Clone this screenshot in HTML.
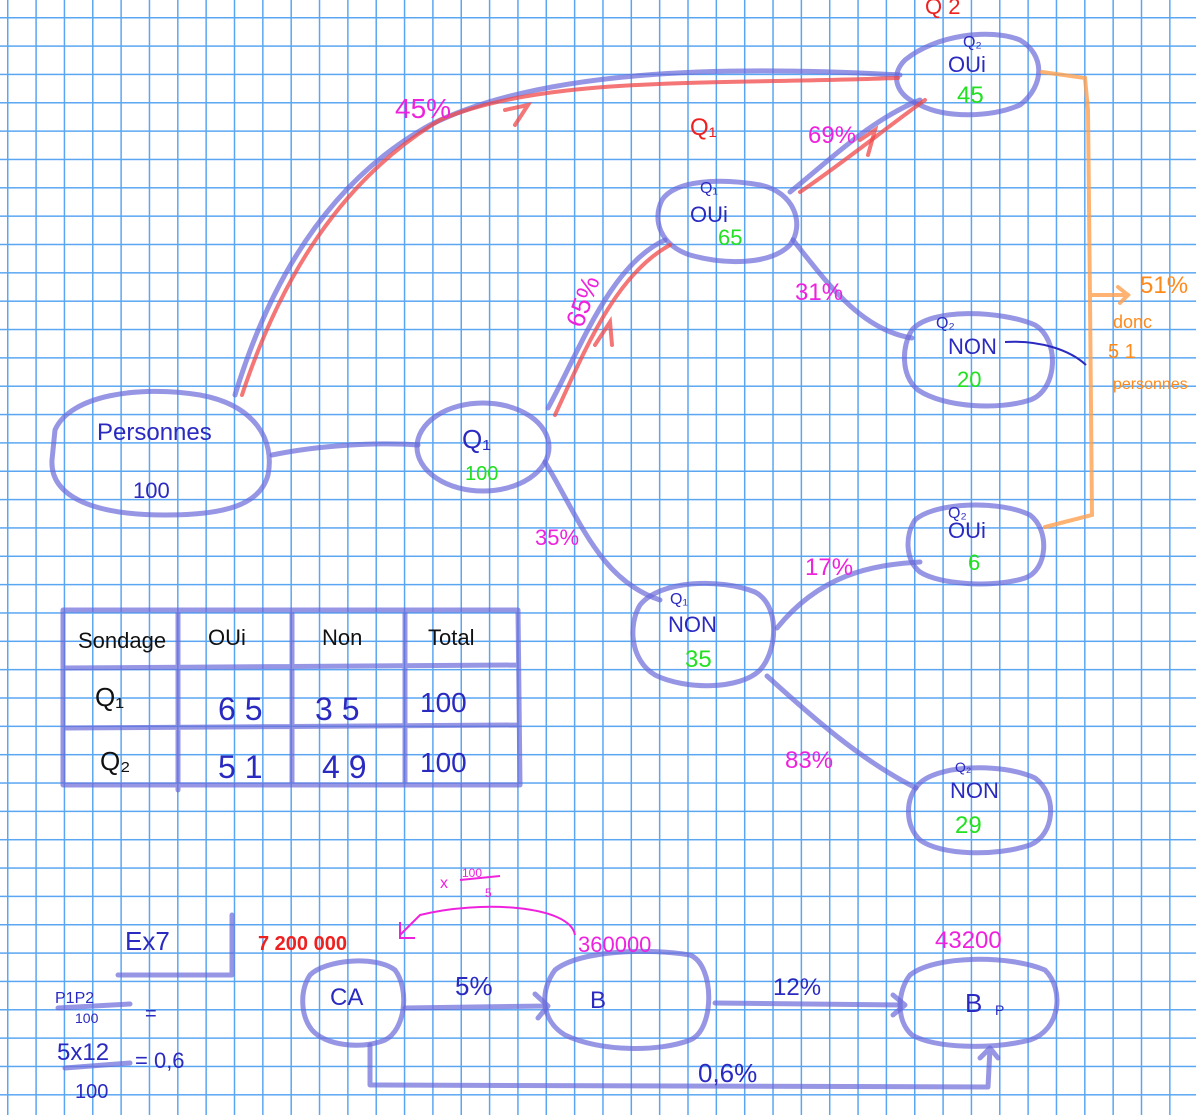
<!DOCTYPE html>
<html><head><meta charset="utf-8">
<style>
html,body{margin:0;padding:0;}
body{width:1196px;height:1115px;overflow:hidden;background:#fff;
background-image:linear-gradient(to right,#5aa6f2 1.5px,transparent 1.5px),linear-gradient(to bottom,#5aa6f2 1.5px,transparent 1.5px);
background-size:28.35px 28.35px;background-position:7px 17px;}
svg{position:absolute;left:0;top:0;}
text{font-family:"Liberation Sans",sans-serif;}
.b{fill:#2a2ac0}.g{fill:#22e022}.m{fill:#ee22dd}.r{fill:#ee2020}.o{fill:#ff8a1a}.k{fill:#111}
</style></head><body>
<svg width="1196" height="1115" viewBox="0 0 1196 1115">
<g fill="none" stroke="#6a6ad8" stroke-opacity="0.7" stroke-width="5" stroke-linecap="round" stroke-linejoin="round">
<!-- ellipses -->
<path d="M55,430 C70,395 140,385 200,395 C255,405 275,440 268,475 C260,505 225,515 165,515 C90,515 50,495 52,460 Z"/>
<ellipse cx="483" cy="447" rx="66" ry="44"/>
<path d="M662,200 C675,180 720,178 760,185 C795,192 805,225 790,245 C770,265 725,265 690,255 C660,245 652,220 662,200 Z"/>
<path d="M640,605 C660,580 720,578 755,592 C780,605 778,650 760,670 C740,690 685,690 655,675 C630,660 628,625 640,605 Z"/>
<path d="M905,60 C935,35 990,28 1020,40 C1045,55 1045,85 1020,105 C990,118 945,118 920,105 C895,95 890,75 905,60 Z"/>
<path d="M912,330 C930,308 1000,310 1035,325 C1060,340 1058,390 1030,400 C1000,410 945,408 918,390 C900,375 902,345 912,330 Z"/>
<path d="M915,520 C935,502 1000,500 1030,515 C1050,530 1048,570 1025,578 C995,588 940,585 920,572 C905,560 905,535 915,520 Z"/>
<path d="M918,785 C935,765 1000,762 1035,778 C1058,795 1055,835 1030,845 C995,857 940,855 920,840 C905,825 905,800 918,785 Z"/>
<path d="M310,975 C325,960 375,955 395,970 C410,990 405,1030 385,1040 C360,1050 325,1045 312,1030 C300,1015 300,990 310,975 Z"/>
<path d="M555,970 C580,950 650,948 690,955 C715,965 715,1030 690,1040 C660,1052 600,1052 565,1035 C540,1020 540,990 555,970 Z"/>
<path d="M910,975 C935,955 1010,955 1045,970 C1065,990 1060,1030 1030,1040 C990,1050 935,1048 912,1035 C895,1020 898,990 910,975 Z"/>
<!-- connectors -->
<path d="M272,455 C320,445 380,442 418,445"/>
<path d="M548,408 C580,350 610,265 665,240"/>
<path d="M545,462 C580,520 600,580 660,600"/>
<path d="M235,395 C270,280 330,180 430,125 C540,70 720,65 900,75"/>
<path d="M790,192 C830,160 870,120 920,100"/>
<path d="M793,240 C825,280 860,330 912,338"/>
<path d="M777,628 C820,575 870,565 920,562"/>
<path d="M767,676 C810,715 860,760 916,788"/>
<path d="M405,1008 L548,1006 M535,994 L548,1006 L538,1018"/>
<path d="M715,1003 L905,1005 M893,995 L905,1005 L893,1015"/>
<path d="M370,1045 L370,1085 L988,1087 L990,1048 M980,1058 L990,1048 L998,1058"/>
<!-- table -->
<path d="M63,610 L518,610 L520,785 L63,785 Z M63,668 L518,665 M63,728 L518,725 M178,610 L178,790 M292,610 L292,785 M405,610 L405,785"/>
<path d="M118,975 L232,975 L232,915"/>
<path d="M58,1008 L130,1004 M65,1068 L130,1063"/>
</g>
<g fill="none" stroke="#f04848" stroke-opacity="0.75" stroke-width="4" stroke-linecap="round">
<path d="M242,395 C280,280 340,180 440,120 C545,75 720,85 898,78"/>
<path d="M555,415 C585,350 615,275 670,245"/>
<path d="M800,192 C840,165 890,125 925,100"/>
<path d="M505,110 L528,105 L515,125 M595,345 L610,322 L612,345 M860,140 L875,130 L868,155"/>
</g>
<g fill="none" stroke="#ffa050" stroke-opacity="0.8" stroke-width="4" stroke-linecap="round">
<path d="M1042,72 L1085,78 L1088,110 L1090,300 L1092,515 L1045,527 M1090,295 L1128,295 M1118,287 L1128,295 L1120,303"/>
</g>
<path d="M1005,342 C1040,340 1070,350 1086,365" fill="none" stroke="#2a2ac0" stroke-width="2"/>
<path d="M575,935 C570,905 480,900 420,915 L400,935 M400,922 L400,938 L415,938" fill="none" stroke="#ee22dd" stroke-width="2"/>

<!-- texts -->
<text x="97" y="440" class="b" font-size="24">Personnes</text>
<text x="133" y="498" class="b" font-size="22">100</text>
<text x="462" y="448" class="b" font-size="26">Q₁</text>
<text x="465" y="480" class="g" font-size="20">100</text>
<text x="700" y="193" class="b" font-size="16">Q₁</text>
<text x="690" y="222" class="b" font-size="22">OUi</text>
<text x="718" y="245" class="g" font-size="22">65</text>
<text x="670" y="604" class="b" font-size="16">Q₁</text>
<text x="668" y="632" class="b" font-size="22">NON</text>
<text x="685" y="667" class="g" font-size="24">35</text>
<text x="963" y="47" class="b" font-size="16">Q₂</text>
<text x="948" y="72" class="b" font-size="22">OUi</text>
<text x="957" y="103" class="g" font-size="24">45</text>
<text x="936" y="328" class="b" font-size="16">Q₂</text>
<text x="948" y="354" class="b" font-size="22">NON</text>
<text x="957" y="387" class="g" font-size="22">20</text>
<text x="948" y="518" class="b" font-size="16">Q₂</text>
<text x="948" y="538" class="b" font-size="22">OUi</text>
<text x="968" y="570" class="g" font-size="22">6</text>
<text x="955" y="772" class="b" font-size="14">Q₂</text>
<text x="950" y="798" class="b" font-size="22">NON</text>
<text x="955" y="833" class="g" font-size="24">29</text>
<text x="395" y="118" class="m" font-size="28">45%</text>
<text x="808" y="143" class="m" font-size="24">69%</text>
<text x="555" y="320" class="m" font-size="26" transform="rotate(-70 575 305)">65%</text>
<text x="795" y="300" class="m" font-size="24">31%</text>
<text x="535" y="545" class="m" font-size="22">35%</text>
<text x="805" y="575" class="m" font-size="24">17%</text>
<text x="785" y="768" class="m" font-size="24">83%</text>
<text x="690" y="135" class="r" font-size="24">Q₁</text>
<text x="925" y="14" class="r" font-size="22">Q 2</text>
<text x="1140" y="293" class="o" font-size="24">51%</text>
<text x="1113" y="328" class="o" font-size="18">donc</text>
<text x="1108" y="358" class="o" font-size="20">5 1</text>
<text x="1113" y="389" class="o" font-size="16">personnes</text>
<text x="78" y="648" class="k" font-size="22">Sondage</text>
<text x="208" y="645" class="k" font-size="22">OUi</text>
<text x="322" y="645" class="k" font-size="22">Non</text>
<text x="428" y="645" class="k" font-size="22">Total</text>
<text x="95" y="706" class="k" font-size="26">Q₁</text>
<text x="100" y="770" class="k" font-size="26">Q₂</text>
<text x="218" y="720" class="b" font-size="32">6 5</text>
<text x="315" y="720" class="b" font-size="32">3 5</text>
<text x="420" y="712" class="b" font-size="28">100</text>
<text x="218" y="778" class="b" font-size="32">5 1</text>
<text x="322" y="778" class="b" font-size="32">4 9</text>
<text x="420" y="772" class="b" font-size="28">100</text>
<text x="125" y="950" class="b" font-size="26">Ex7</text>
<text x="55" y="1003" class="b" font-size="16">P1P2</text>
<text x="75" y="1023" class="b" font-size="14">100</text>
<text x="145" y="1020" class="b" font-size="20">=</text>
<text x="57" y="1060" class="b" font-size="24">5x12</text>
<text x="135" y="1068" class="b" font-size="22">= 0,6</text>
<text x="75" y="1098" class="b" font-size="20">100</text>
<text x="258" y="950" class="r" font-size="20" font-weight="bold">7 200 000</text>
<text x="578" y="952" class="m" font-size="22">360000</text>
<text x="440" y="888" class="m" font-size="16">x</text>
<text x="462" y="877" class="m" font-size="12">100</text>
<line x1="460" y1="880" x2="500" y2="876" stroke="#ee22dd" stroke-width="2"/>
<text x="485" y="897" class="m" font-size="12">5</text>
<text x="935" y="948" class="m" font-size="24">43200</text>
<text x="330" y="1005" class="b" font-size="24">CA</text>
<text x="590" y="1008" class="b" font-size="24">B</text>
<text x="965" y="1012" class="b" font-size="26">B</text>
<text x="995" y="1015" class="b" font-size="14">P</text>
<text x="455" y="995" class="b" font-size="26">5%</text>
<text x="773" y="995" class="b" font-size="24">12%</text>
<text x="698" y="1082" class="b" font-size="26">0,6%</text>
</svg>
</body></html>
